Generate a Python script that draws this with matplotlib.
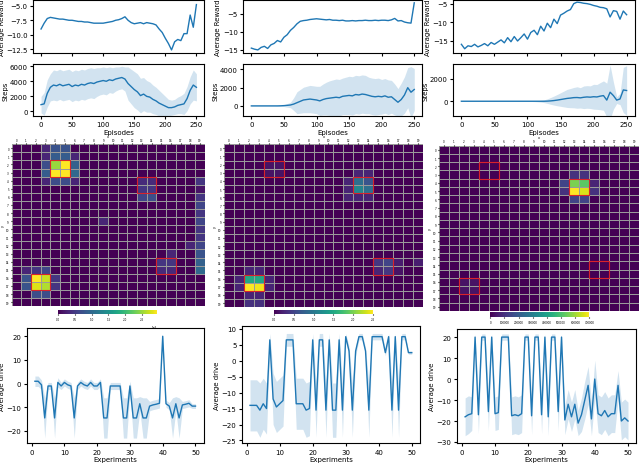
import numpy as np
import matplotlib
matplotlib.use("Agg")
import matplotlib.pyplot as plt
from matplotlib.patches import Rectangle

# episodes sampled every 5 (0..250)
episodes = list(range(0, 251, 5))

reward_1 = [-9.0, -8.0, -7.2, -7.0, -7.1, -7.2, -7.3, -7.3, -7.4, -7.5,
            -7.5, -7.6, -7.7, -7.7, -7.8, -7.8, -7.9, -8.0, -8.0, -8.0,
            -8.0, -7.9, -7.8, -7.7, -7.5, -7.4, -7.2, -6.9, -7.5, -7.9,
            -8.1, -8.0, -7.9, -8.1, -7.9, -8.0, -8.1, -8.3, -9.0, -9.6,
            -10.6, -11.5, -12.6, -11.2, -10.8, -11.0, -9.8, -9.8, -6.6, -8.7,
            -4.8]
reward_2 = [-14.5, -14.8, -15.0, -14.3, -14.0, -14.6, -13.6, -13.2, -12.4, -12.8,
            -11.5, -10.8, -9.6, -8.8, -7.8, -7.1, -6.9, -6.8, -6.6, -6.5,
            -6.4, -6.5, -6.6, -6.7, -6.6, -6.8, -6.8, -6.9, -6.8, -7.0,
            -7.0, -6.9, -7.0, -6.9, -6.9, -6.8, -6.9, -6.9, -6.8, -6.9,
            -6.8, -6.8, -6.9, -6.7, -6.3, -7.0, -6.9, -7.3, -7.5, -7.6,
            -2.0]
reward_3 = [-16.0, -17.2, -16.4, -16.6, -16.0, -16.7, -16.3, -15.8, -16.4, -15.5,
            -16.0, -15.4, -14.8, -15.6, -14.2, -15.3, -13.9, -15.1, -14.2, -13.2,
            -14.6, -12.8, -12.2, -13.4, -11.1, -12.4, -10.3, -11.5, -9.2, -10.4,
            -8.1, -7.6, -7.0, -6.6, -5.0, -4.6, -4.7, -4.9, -5.0, -5.2,
            -5.5, -5.7, -6.0, -6.1, -6.4, -8.6, -6.9, -7.1, -9.2, -7.0,
            -8.0]

steps_1 = [900, 1000, 2400, 3200, 3500, 3400, 3600, 3400, 3500, 3600,
           3300, 3500, 3400, 3600, 3500, 3700, 3800, 3700, 3900, 4000,
           4100, 4000, 4200, 4100, 4300, 4400, 4500, 4300, 3700, 3300,
           2900, 2600, 2100, 2300, 2000, 1900, 1600, 1400, 1100, 900,
           700, 500, 500, 600, 800, 900, 1000, 1700, 2800, 3500,
           3200]
steps_1_sd = [1100, 1500, 1800, 1800, 2000, 2000, 2000, 2000, 2000, 2000,
              2000, 2000, 2000, 2000, 2000, 2000, 2000, 2000, 1900, 1800,
              1800, 1800, 1700, 1700, 1600, 1500, 1500, 1600, 2200, 2300,
              2400, 2400, 2300, 2200, 2100, 2000, 1900, 1800, 1700, 1500,
              1300, 1100, 1000, 1000, 1100, 1200, 1400, 1600, 1800, 2000,
              1800]
steps_2 = [0, 0, 0, 0, 0, 0, 0, 0, 0, 10,
           30, 60, 100, 200, 350, 500, 650, 700, 750, 700,
           650, 550, 700, 800, 850, 900, 950, 900, 1050, 1100,
           1150, 1100, 1250, 1200, 1300, 1250, 1150, 1050, 1000, 1050,
           1000, 1100, 950, 1000, 700, 400, 700, 1200, 2000, 1500,
           1800]
steps_2_sd = [20, 20, 20, 20, 20, 20, 20, 20, 30, 50,
              100, 200, 300, 700, 1200, 1300, 1400, 1450, 1500, 1500,
              1500, 1600, 1700, 1800, 1900, 1950, 2000, 2000, 2000, 2050,
              2100, 2100, 2100, 2100, 2100, 2100, 2000, 2000, 2000, 2000,
              1900, 1900, 1900, 1800, 1700, 1500, 1800, 2000, 2200, 2800,
              2300]
steps_3 = [0, 0, 0, 0, 0, 0, 0, 0, 0, 0,
           0, 0, 0, 0, 0, 0, 0, 0, 0, 0,
           0, 0, 0, 0, 0, 0, 10, 30, 60, 100,
           150, 200, 250, 280, 320, 330, 300, 350, 380, 360,
           400, 380, 450, 500, 100, 800, 500, 100, 200, 1000,
           950]
steps_3_sd = [0, 0, 0, 0, 0, 0, 0, 0, 0, 0,
              0, 0, 0, 0, 0, 0, 0, 0, 0, 0,
              0, 20, 30, 50, 80, 120, 200, 300, 400, 500,
              600, 700, 800, 850, 900, 950, 900, 1000, 1000, 1000,
              1100, 1100, 1200, 1300, 1500, 2400, 1200, 300, 500, 2000,
              2200]

# heatmap hot cells: (row, col, value)
hm_1_cells = [(0, 3, 0.3e6), (0, 4, 0.75e6), (0, 5, 0.75e6),
              (1, 3, 0.3e6), (1, 4, 0.85e6), (1, 5, 0.85e6), (1, 6, 0.3e6),
              (2, 3, 0.7e6), (2, 4, 2.5e6), (2, 5, 2.95e6), (2, 6, 0.9e6),
              (3, 3, 0.85e6), (3, 4, 2.95e6), (3, 5, 2.95e6), (3, 6, 1.0e6),
              (4, 3, 0.3e6), (4, 4, 0.7e6), (4, 5, 0.7e6), (4, 6, 0.3e6),
              (4, 13, 0.35e6), (4, 14, 0.35e6), (4, 19, 0.45e6),
              (5, 13, 0.45e6), (5, 14, 0.45e6), (5, 19, 0.15e6),
              (6, 13, 0.6e6), (6, 14, 0.7e6), (6, 19, 0.45e6),
              (7, 19, 0.6e6), (8, 19, 0.45e6), (9, 9, 0.3e6), (9, 19, 0.6e6),
              (10, 19, 0.45e6), (11, 19, 0.45e6), (12, 18, 0.3e6), (12, 19, 0.6e6),
              (13, 16, 0.3e6), (13, 19, 0.75e6),
              (14, 15, 0.45e6), (14, 16, 0.45e6), (14, 19, 0.9e6),
              (15, 1, 0.3e6), (15, 2, 0.45e6), (15, 3, 0.6e6), (15, 15, 0.35e6),
              (15, 16, 0.35e6), (15, 19, 1.0e6),
              (16, 1, 0.75e6), (16, 2, 2.95e6), (16, 3, 2.7e6), (16, 4, 0.45e6),
              (17, 1, 0.75e6), (17, 2, 2.8e6), (17, 3, 2.6e6), (17, 4, 0.45e6),
              (18, 2, 0.7e6), (18, 3, 0.7e6)]
hm_2_cells = [(2, 4, 0.12e6), (2, 5, 0.12e6), (3, 4, 0.12e6), (3, 5, 0.12e6),
              (3, 13, 0.25e6), (3, 14, 0.25e6),
              (4, 12, 0.25e6), (4, 13, 0.9e6), (4, 14, 0.65e6),
              (5, 12, 0.25e6), (5, 13, 1.15e6), (5, 14, 0.9e6),
              (6, 12, 0.25e6), (6, 13, 0.25e6), (6, 14, 0.25e6),
              (14, 15, 0.4e6), (14, 16, 0.5e6), (14, 17, 0.2e6), (14, 19, 0.2e6),
              (15, 15, 0.25e6), (15, 16, 0.4e6), (15, 17, 0.12e6),
              (15, 2, 0.25e6), (15, 3, 0.25e6),
              (16, 1, 0.25e6), (16, 2, 1.5e6), (16, 3, 1.5e6), (16, 4, 0.25e6),
              (17, 1, 0.25e6), (17, 2, 2.5e6), (17, 3, 2.45e6), (17, 4, 0.25e6),
              (18, 2, 0.25e6), (18, 3, 0.25e6), (19, 2, 0.35e6), (19, 3, 0.35e6)]
hm_3_cells = [(3, 13, 1.0e5), (3, 14, 1.0e5),
              (4, 12, 1.4e5), (4, 13, 5.6e5), (4, 14, 5.2e5), (4, 15, 0.7e5),
              (5, 12, 1.0e5), (5, 13, 7.0e5), (5, 14, 6.6e5), (5, 15, 1.0e5),
              (6, 13, 1.4e5), (6, 14, 1.4e5),
              (16, 2, 0.35e5), (16, 3, 0.35e5), (17, 2, 0.35e5), (17, 3, 0.35e5)]
boxes = [(2, 4), (4, 13), (14, 15), (16, 2)]   # (row, col) of the 2x2 red boxes

experiments = list(range(1, 51))
drive_1 = [1, 1, -0.5, -14.5, -1, -1, -14.5, 0.5, -1, 0.5,
           -0.5, -1, -14.5, -1, 0.5, -0.5, -1, 0.5, -1, -1,
           0.5, -14.5, -14.5, -1, -1, -1, -1, -14.5, -14.5, -1,
           -14.5, -14.5, -8.5, -14.5, -14.5, -9.5, -9, -8.7, -8.3, 20,
           -8.5, -9.5, -14.5, -8.5, -14.5, -9, -8.7, -8.3, -9.5, -9.5]
drive_1_err = [2.2, 2.2, 2, 8.5, 1.5, 1.5, 8.5, 2, 1.5, 1.5,
               1.5, 1.5, 8.5, 1.5, 1.5, 1.5, 1.5, 1.5, 1.5, 1.5,
               1.5, 8.5, 8.5, 1.5, 1.5, 1.5, 1.5, 8.5, 8.5, 2,
               8.5, 8.5, 3, 8.5, 8.5, 2, 2, 2, 2, 0.5,
               1.5, 1.5, 8.5, 3, 8.5, 1.5, 1.5, 1.5, 1, 1]
drive_2 = [-14, -14, -14, -15.5, -13.5, -15, 6.5, -12, -14.5, -13.5,
           -12.5, 6.5, 6.5, 6.5, -13.5, -13.5, -13.5, -15.5, -15, 6.5,
           -15.5, 6.5, 6.5, -15.5, 6.5, -15.5, -15.5, 6.5, -15.5, 7.5,
           3, -15.5, 3, 7.5, 7.5, 3, -15.5, 7.5, 7.5, 7.5,
           7.5, 2.5, 7.5, -15.5, 7.5, -15.5, 7.5, 7.5, 2.5, 2.5]
drive_2_err = [8, 8, 8, 8.5, 8, 8, 2, 8, 8, 8,
               8, 2, 2, 2, 8, 8, 8, 8.5, 8.5, 2,
               8.5, 2, 2, 8.5, 2, 8.5, 8.5, 2, 8.5, 1,
               1.5, 8.5, 1.5, 1, 1, 1, 8.5, 1, 1, 1,
               1, 1, 1, 8.5, 1, 8.5, 1, 1, 0.5, 0.5]
drive_3 = [-18, -17, -16.5, 20, -17, 20, 20, -15.5, 20, -16.5,
           -16, 20, 20, 20, -17.5, -17, -17.5, -16.5, 20, 20,
           -17.5, 20, 20, -17, 20, -18, 20, 20, -15.5, 20,
           -19.5, -12, -18, -12, -21, -17, -10, -3, -19, 0,
           -16.5, -17.5, -15, -18, -16.5, -16.5, -3, -20, -18.5, -20]
drive_3_err = [9, 9, 8, 1.5, 9, 1.5, 1.5, 9, 1.5, 8,
               8, 1.5, 1.5, 1.5, 9, 9, 9, 9, 1.5, 1.5,
               9, 1.5, 1.5, 9, 1.5, 9, 1.5, 1.5, 9, 1.5,
               7, 7, 7, 7, 6, 8, 9, 9, 8, 9,
               9, 9, 9, 9, 9, 9, 7, 9, 9, 9]

blue = '#1f77b4'
fs = 5

fig = plt.figure(figsize=(6.4, 4.64), dpi=100)

# axes boxes [left, bottom, width, height] per column
rew_pos = [[0.052, 0.884, 0.267, 0.114], [0.380, 0.884, 0.280, 0.114], [0.708, 0.884, 0.284, 0.114]]
stp_pos = [[0.052, 0.748, 0.267, 0.112], [0.380, 0.748, 0.280, 0.112], [0.708, 0.748, 0.284, 0.112]]
hm_pos = [[0.018, 0.338, 0.302, 0.349], [0.350, 0.336, 0.311, 0.351], [0.686, 0.328, 0.3125, 0.356]]
cb_pos = [[0.0906, 0.321, 0.155, 0.009], [0.428, 0.321, 0.155, 0.009], [0.766, 0.315, 0.155, 0.010]]
drv_pos = [[0.042, 0.043, 0.276, 0.248], [0.378, 0.043, 0.278, 0.252], [0.714, 0.043, 0.280, 0.246]]

rewards = [reward_1, reward_2, reward_3]
reward_ylim = [(-13.1, -4.0), (-15.8, -1.2), (-18.3, -4.0)]
reward_ticks = [[-12.5, -10.0, -7.5, -5.0], [-15, -10, -5], [-15, -10, -5]]
steps = [(steps_1, steps_1_sd), (steps_2, steps_2_sd), (steps_3, steps_3_sd)]
steps_ylim = [(-600, 6300), (-1100, 4600), (-1300, 3300)]
steps_ticks = [[0, 2000, 4000, 6000], [0, 2000, 4000], [0, 2000]]
heatmaps = [hm_1_cells, hm_2_cells, hm_3_cells]
hm_vmax = [2.95e6, 2.5e6, 7.0e5]
drives = [(drive_1, drive_1_err), (drive_2, drive_2_err), (drive_3, drive_3_err)]
drive_ylim = [(-25.1, 23.5), (-25.8, 10.8), (-30.5, 23.9)]
drive_ticks = [np.arange(-20, 21, 10), np.arange(-25, 11, 5), np.arange(-30, 21, 10)]

for i in range(3):
    # reward
    ax = fig.add_axes(rew_pos[i])
    ax.plot(episodes, rewards[i], color=blue, lw=1)
    ax.set_ylim(*reward_ylim[i])
    ax.set_yticks(reward_ticks[i])
    ax.set_xticks([0, 50, 100, 150, 200, 250])
    ax.set_ylabel('Average Reward', fontsize=fs, labelpad=1)
    ax.tick_params(labelsize=fs, labelbottom=False, length=2.5, pad=1.5)

    # steps
    ax = fig.add_axes(stp_pos[i])
    m = np.array(steps[i][0], dtype=float)
    sd = np.array(steps[i][1], dtype=float)
    ax.fill_between(episodes, m - sd, m + sd, color=blue, alpha=0.2, lw=0)
    ax.plot(episodes, m, color=blue, lw=1)
    ax.set_ylim(*steps_ylim[i])
    ax.set_yticks(steps_ticks[i])
    ax.set_ylabel('Steps', fontsize=fs, labelpad=1)
    ax.set_xlabel('Episodes', fontsize=fs, labelpad=1)
    ax.set_xticks([0, 50, 100, 150, 200, 250])
    ax.tick_params(labelsize=fs, length=2.5, pad=1.5)

    # heatmap
    data = np.zeros((20, 20))
    for r, c, v in heatmaps[i]:
        data[r, c] = v
    ax = fig.add_axes(hm_pos[i])
    mesh = ax.pcolormesh(data, cmap='viridis', vmin=0, vmax=hm_vmax[i],
                         edgecolors='#9a9a9a', linewidth=0.45)
    ax.set_xlim(0, 20)
    ax.set_ylim(20, 0)
    ax.xaxis.tick_top()
    ax.xaxis.set_label_position('top')
    ax.set_xticks(np.arange(20) + 0.5)
    ax.set_xticklabels([str(k) for k in range(20)])
    ax.set_yticks(np.arange(20) + 0.5)
    ax.set_yticklabels([str(k) for k in range(20)])
    ax.tick_params(labelsize=2, length=1, pad=0.8)
    ax.set_xlabel('x', fontsize=2.5, labelpad=0.5)
    ax.set_ylabel('y', fontsize=2.5, labelpad=0.5)
    for s in ax.spines.values():
        s.set_visible(False)
    for r, c in boxes:
        ax.add_patch(Rectangle((c, r), 2, 2, fill=False, edgecolor='#d8232a', lw=0.8))
    cax = fig.add_axes(cb_pos[i])
    cb = fig.colorbar(mesh, cax=cax, orientation='horizontal')
    cb.ax.tick_params(labelsize=2, length=1, pad=1)
    cb.ax.xaxis.get_offset_text().set_fontsize(2)
    cb.outline.set_visible(False)

    # drive
    ax = fig.add_axes(drv_pos[i])
    d = np.array(drives[i][0], dtype=float)
    e = np.array(drives[i][1], dtype=float)
    ax.fill_between(experiments, d - e, d + e, color=blue, alpha=0.2, lw=0)
    ax.plot(experiments, d, color=blue, lw=1)
    ax.set_ylim(*drive_ylim[i])
    ax.set_yticks(drive_ticks[i])
    ax.set_xticks([0, 10, 20, 30, 40, 50])
    ax.set_ylabel('Average drive', fontsize=fs, labelpad=1)
    ax.set_xlabel('Experiments', fontsize=fs, labelpad=1)
    ax.tick_params(labelsize=fs, length=2.5, pad=1.5)

fig.savefig('out.png', dpi=100)
